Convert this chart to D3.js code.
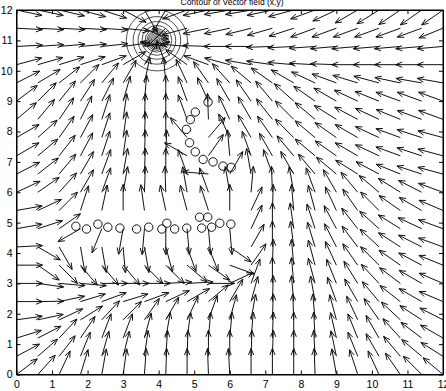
<!DOCTYPE html>
<html>
<head>
<meta charset="utf-8">
<script src="https://cdn.jsdelivr.net/npm/d3@7"></script>
<style>
  body { margin: 0; background: #fff; }
  svg { display: block; }
  text { font-family: "Liberation Sans", Arial, sans-serif; fill: #000; }
</style>
</head>
<body>
<svg class="field"></svg>
<script>
const width = 446;
const height = 391;
const plot = { left: 16.5, right: 443, top: 10, bottom: 374.5 };

const titleText = 'Contour of Vector field (x,y)';
const xTicks = [0, 1, 2, 3, 4, 5, 6, 7, 8, 9, 10, 11, 12];
const yTicks = [0, 1, 2, 3, 4, 5, 6, 7, 8, 9, 10, 11, 12];

// sample points of the field (same along x and y)
const gridX = [0, 0.6, 1.2, 1.8, 2.4, 3, 3.6, 4.2, 4.8, 5.4, 6, 6.6, 7.2, 7.8, 8.4, 9, 9.6, 10.2, 10.8, 11.4, 12];
const gridY = [0, 0.6, 1.2, 1.8, 2.4, 3, 3.6, 4.2, 4.8, 5.4, 6, 6.6, 7.2, 7.8, 8.4, 9, 9.6, 10.2, 10.8, 11.4, 12];

// arrow directions in degrees as seen on the chart, one row per gridY value (bottom row first)
const angles = [
  [37, 48, 65, 73, 80, 82, 86, 88, 90, 92, 93, 90, 90, 90, 92, 100, 108, 115, 125, 135, 140],
  [28, 41, 52, 68, 74, 76, 82, 86, 88, 90, 90, 88, 88, 90, 93, 102, 112, 120, 130, 140, 148],
  [17, 27, 47, 56, 69, 69, 75, 80, 82, 85, 85, 85, 88, 90, 93, 103, 112, 120, 132, 143, 150],
  [8, 12, 25, 32, 47, 45, 55, 60, 65, 70, 75, 80, 88, 92, 95, 105, 115, 125, 137, 147, 153],
  [0, 1, 12, 17, 20, 17, 20, 25, 30, 40, 60, 75, 88, 95, 100, 110, 120, 130, 142, 150, 157],
  [0, -8, -5, -5, 0, 0, 0, 3, 3, 0, 25, 70, 90, 95, 105, 112, 122, 133, 143, 150, 157],
  [0, -35, -45, -50, -50, -50, -45, -45, -40, -35, -20, 55, 88, 95, 105, 115, 125, 135, 145, 152, 158],
  [3, -30, -60, -80, -80, -85, -80, -75, -70, -68, -35, 60, 90, 97, 107, 117, 127, 137, 147, 153, 160],
  [10, 18, 35, -150, -112, -100, -95, -90, -85, -85, -85, 65, 90, 98, 108, 118, 128, 138, 148, 155, 160],
  [10, 25, 45, 72, 78, 90, 98, 102, 105, 108, 90, 65, 88, 95, 105, 115, 125, 135, 145, 150, 157],
  [25, 35, 48, 60, 70, 80, 88, 92, 100, 110, 100, 85, 92, 100, 110, 120, 130, 140, 148, 153, 160],
  [27, 38, 50, 60, 70, 80, 88, 90, 110, 175, 60, 100, 110, 120, 130, 140, 148, 152, 158, 162, 165],
  [30, 40, 52, 62, 72, 82, 88, 88, 150, 55, 95, 110, 120, 130, 140, 145, 150, 155, 160, 162, 165],
  [30, 42, 55, 62, 72, 82, 88, 90, 130, 50, 115, 120, 125, 135, 140, 145, 150, 155, 160, 162, 165],
  [40, 50, 56, 64, 72, 82, 88, 90, 110, 92, 115, 120, 128, 135, 140, 148, 152, 155, 158, 160, 160],
  [37, 45, 51, 57, 63, 74, 85, 90, 110, 115, 120, 125, 130, 138, 145, 150, 155, 158, 160, 160, 160],
  [27, 31, 38, 45, 50, 60, 78, 95, 115, 125, 132, 140, 145, 150, 155, 160, 163, 165, 168, 170, 170],
  [15, 16, 17, 18, 20, 30, 60, 110, 145, 160, 165, 170, 172, 175, 177, 178, 180, 180, 180, 180, 180],
  [3, 4, 5, 5, 6, 8, 10, 170, 175, 178, 180, 180, 182, 183, 184, 185, 185, 185, 185, 185, 185],
  [-3, -3, -3, -3, -4, -6, -25, -135, -165, -168, -168, -166, -164, -162, -160, -160, -160, -160, -160, -160, -158],
  [-12, -12, -13, -15, -18, -28, -60, -120, -160, -168, -170, -170, -168, -165, -160, -155, -150, -148, -146, -145, -145]
];

// goal point and the contour ring sizes round it (x units)
const goal = [3.95, 11.0];
const contourRadii = [0.04, 0.08, 0.12, 0.16, 0.2, 0.24, 0.28, 0.33, 0.42, 0.53, 0.67, 0.86];

// obstacle circles
const obstacleX = [1.67, 1.97, 2.29, 2.57, 2.91, 3.38, 3.72, 4.09, 4.23, 4.45, 4.79, 5.15, 5.38, 5.21, 5.49, 5.72, 6.03,
                   5.39, 5.03, 4.89, 4.78, 4.87, 5.03, 5.25, 5.53, 5.81, 6.04];
const obstacleY = [4.88, 4.79, 4.95, 4.85, 4.82, 4.79, 4.85, 4.79, 4.98, 4.79, 4.82, 5.18, 5.18, 4.82, 4.85, 4.98, 4.95,
                   8.97, 8.64, 8.39, 8.07, 7.63, 7.33, 7.08, 7.00, 6.86, 6.82];

const arrowLen = 26;
const headLen = 7;
const headAngle = 22;

const svg = d3.select('svg.field')
    .attr('width', width)
    .attr('height', height);

const x = d3.scaleLinear().domain([0, 12]).range([plot.left, plot.right]);
const y = d3.scaleLinear().domain([0, 12]).range([plot.bottom, plot.top]);

// contour rings round the goal (round on screen)
const rings = svg.append('g').attr('class', 'contours');
contourRadii.forEach(r => {
    rings.append('circle')
        .attr('cx', x(goal[0]))
        .attr('cy', y(goal[1]))
        .attr('r', x(r) - x(0))
        .attr('fill', 'none')
        .attr('stroke', '#222')
        .attr('stroke-width', 0.8);
});

// quiver arrows
const arrows = [];
angles.forEach((row, j) => {
    row.forEach((a, i) => arrows.push({ x: gridX[i], y: gridY[j], a: a }));
});

function arrowPath(d) {
    const x0 = x(d.x), y0 = y(d.y);
    const t = d.a * Math.PI / 180;
    const x1 = x0 + arrowLen * Math.cos(t);
    const y1 = y0 - arrowLen * Math.sin(t);
    const h = headAngle * Math.PI / 180;
    const bx1 = x1 - headLen * Math.cos(t - h), by1 = y1 + headLen * Math.sin(t - h);
    const bx2 = x1 - headLen * Math.cos(t + h), by2 = y1 + headLen * Math.sin(t + h);
    return `M${x0},${y0}L${x1},${y1}M${bx1},${by1}L${x1},${y1}L${bx2},${by2}`;
}

svg.append('g')
    .attr('class', 'quiver')
    .selectAll('path')
    .data(arrows)
    .join('path')
    .attr('d', arrowPath)
    .attr('fill', 'none')
    .attr('stroke', '#111')
    .attr('stroke-width', 1);

// obstacles
svg.append('g')
    .attr('class', 'obstacles')
    .selectAll('circle')
    .data(obstacleX)
    .join('circle')
    .attr('cx', (d) => x(d))
    .attr('cy', (d, i) => y(obstacleY[i]))
    .attr('r', 4.2)
    .attr('fill', 'none')
    .attr('stroke', '#111')
    .attr('stroke-width', 1);

// white outside the axes box so arrows don't spill
svg.append('path')
    .attr('d', `M0,0H${width}V${height}H0Z M${plot.left},${plot.top}V${plot.bottom}H${plot.right}V${plot.top}Z`)
    .attr('fill', '#fff')
    .attr('fill-rule', 'evenodd');

// title, mostly off the top of the picture like in the original
svg.append('text')
    .attr('x', 232)
    .attr('y', 4.5)
    .attr('text-anchor', 'middle')
    .style('font-size', '8.5px')
    .text(titleText);

// axes
svg.append('g')
    .attr('transform', `translate(0,${plot.bottom})`)
    .call(d3.axisBottom(x).tickValues(xTicks).tickSizeInner(-4).tickSizeOuter(0).tickPadding(6))
    .call(g => g.selectAll('text').style('font-size', '10.5px'));

svg.append('g')
    .attr('transform', `translate(${plot.left},0)`)
    .call(d3.axisLeft(y).tickValues(yTicks).tickSizeInner(-4).tickSizeOuter(0).tickPadding(4))
    .call(g => g.selectAll('text').style('font-size', '10.5px'));

svg.append('g')
    .attr('transform', `translate(0,${plot.top})`)
    .call(d3.axisTop(x).tickValues(xTicks).tickSizeInner(-4).tickSizeOuter(0).tickFormat(''));

svg.append('g')
    .attr('transform', `translate(${plot.right},0)`)
    .call(d3.axisRight(y).tickValues(yTicks).tickSizeInner(-4).tickSizeOuter(0).tickFormat(''));

svg.append('rect')
    .attr('x', plot.left)
    .attr('y', plot.top)
    .attr('width', plot.right - plot.left)
    .attr('height', plot.bottom - plot.top)
    .attr('fill', 'none')
    .attr('stroke', '#000')
    .attr('stroke-width', 1);
</script>
</body>
</html>
